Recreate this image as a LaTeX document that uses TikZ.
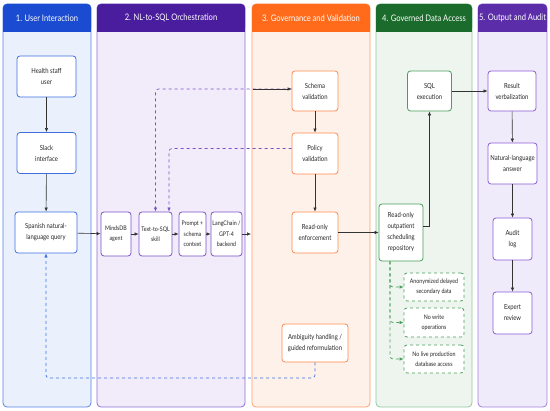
\documentclass[tikz,border=0pt]{standalone}
\usepackage{fontspec}
\setmainfont{Lato}[FakeStretch=0.84]
\usetikzlibrary{arrows.meta}

\definecolor{hdA}{HTML}{1A4BD0}
\definecolor{bdA}{HTML}{EAF1FD}
\definecolor{boA}{HTML}{5580E6}
\definecolor{ndA}{HTML}{3F6FE0}
\definecolor{hdB}{HTML}{4A1D9E}
\definecolor{bdB}{HTML}{F2ECFA}
\definecolor{boB}{HTML}{8C6BD6}
\definecolor{ndB}{HTML}{7A52C7}
\definecolor{hdC}{HTML}{FF6B1A}
\definecolor{bdC}{HTML}{FDF1EA}
\definecolor{boC}{HTML}{FF9E6B}
\definecolor{ndC}{HTML}{FF8A4F}
\definecolor{hdD}{HTML}{1B6B2C}
\definecolor{bdD}{HTML}{EEF5EF}
\definecolor{boD}{HTML}{8EC79B}
\definecolor{ndD}{HTML}{4A9E5C}
\definecolor{hdE}{HTML}{5B2DA8}
\definecolor{bdE}{HTML}{F0EBFA}
\definecolor{boE}{HTML}{9F80E0}
\definecolor{ndE}{HTML}{8A5CD6}

\begin{document}
\begin{tikzpicture}[x=1pt,y=-1pt,
  box/.style={draw, fill=white, rounded corners=3pt, line width=0.8pt, align=center,
    inner sep=1pt, text=black!85, font=\fontsize{7}{11}\selectfont},
  smallbox/.style={box, font=\fontsize{6.3}{10.3}\selectfont},
  rulebox/.style={box, dashed, draw=ndD, font=\fontsize{6.3}{9.8}\selectfont, minimum width=60pt},
  lanetitle/.style={text=white, font=\fontsize{9}{11}\selectfont},
  flow/.style={-{Latex[length=4pt,width=3.5pt]}, line width=0.6pt, draw=black!80},
  loopback/.style={-{Latex[length=4pt,width=3.5pt]}, dashed, line width=0.7pt, rounded corners=3pt},
]
  \useasboundingbox (0,0) rectangle (550,411);

  % Carriles
  \foreach \xa/\xb/\hd/\bd/\bo/\ti [count=\k] in
    {3/91/hdA/bdA/boA/{1. User Interaction},
     97/245/hdB/bdB/boB/{2. NL-to-SQL Orchestration},
     252/370/hdC/bdC/boC/{3. Governance and Validation},
     376/472/hdD/bdD/boD/{4. Governed Data Access},
     478/547/hdE/bdE/boE/{5. Output and Audit}} {
    \draw[\bo, fill=\bd, rounded corners=4pt, line width=0.8pt] (\xa,4) rectangle (\xb,407);
    \fill[\hd, rounded corners=4pt] (\xa,4) rectangle (\xb,32);
    \fill[\hd] (\xa,20) rectangle (\xb,32);
    \node[lanetitle] (lane\k) at ({(\xa+\xb)/2},18) {\ti};
  }

  % 1. Usuario
  \node[box, draw=ndA, minimum width=59pt, minimum height=41pt] (staff) at (46.5,76.5) {Health staff\\user};
  \node[box, draw=ndA, minimum width=59pt, minimum height=41pt] (slack) at (46.5,153) {Slack\\interface};
  \node[box, draw=ndA, minimum width=62pt, minimum height=41pt] (query) at (46,232.5) {Spanish natural-\\language query};

  % 2. Orquestacion
  \node[smallbox, draw=ndB, minimum width=30pt, minimum height=44pt] (minds) at (116,234) {MindsDB\\agent};
  \node[smallbox, draw=ndB, minimum width=33pt, minimum height=44pt] (skill) at (155.5,234) {Text-to-SQL\\skill};
  \node[smallbox, draw=ndB, minimum width=27pt, minimum height=44pt] (prompt) at (192.5,234) {Prompt +\\schema\\context};
  \node[smallbox, draw=ndB, minimum width=31pt, minimum height=44pt] (llm) at (226.5,234) {LangChain /\\GPT-4\\backend};

  % 3. Gobernanza
  \node[box, draw=ndC, minimum width=46pt, minimum height=40pt] (schema) at (315,91) {Schema\\validation};
  \node[box, draw=ndC, minimum width=46pt, minimum height=41pt] (policy) at (315,153.5) {Policy\\validation};
  \node[box, draw=ndC, minimum width=46pt, minimum height=41pt] (rdonly) at (315,232.5) {Read-only\\enforcement};
  \node[box, draw=ndC, minimum width=66pt, minimum height=38pt] (ambig) at (315,343) {Ambiguity handling /\\guided reformulation};

  % 4. Acceso a datos
  \node[box, draw=ndD, minimum width=44pt, minimum height=40pt] (sqlx) at (429.5,91) {SQL\\execution};
  \node[box, draw=ndD, minimum width=44pt, minimum height=57pt] (repo) at (401,232.5) {Read-only\\outpatient\\scheduling\\repository};
  \node[rulebox, minimum height=28pt] (anon) at (434,287) {Anonymized delayed\\secondary data};
  \node[rulebox, minimum height=29pt] (nowrite) at (434,322.5) {No write\\operations};
  \node[rulebox, minimum height=28pt] (nolive) at (434,359) {No live production\\database access};

  % 5. Salida
  \node[box, draw=ndE, minimum width=48pt, minimum height=40pt] (verb) at (512,91) {Result\\verbalization};
  \node[box, draw=ndE, minimum width=49pt, minimum height=41pt] (answer) at (512.5,163.5) {Natural-language\\answer};
  \node[box, draw=ndE, minimum width=39pt, minimum height=42pt] (audit) at (512.5,239) {Audit\\log};
  \node[box, draw=ndE, minimum width=39pt, minimum height=42pt] (expert) at (512.5,313) {Expert\\review};

  % puntos de paso
  \coordinate (gin) at (251,0);
  \coordinate (gout) at (253,0);
  \coordinate (back) at (46,378);

  % flujo principal
  \draw[flow] (staff) -- (slack);
  \draw[flow] (slack) -- (query);
  \draw[flow] (query) -- (minds);
  \draw[flow] (minds) -- (skill);
  \draw[flow] (skill) -- (prompt);
  \draw[flow] (prompt) -- (llm);
  \draw[flow] (llm.east) -- (llm.east -| gin);

  % retornos a Text-to-SQL
  \draw[loopback, draw=ndB] ([yshift=2pt]schema.west) -| (skill.north);
  \draw[loopback, draw=ndB] ([yshift=5pt]policy.west) -| ([xshift=13.5pt]skill.north);
  \draw[flow] ([yshift=2pt]schema.west -| gout) -- ([yshift=2pt]schema.west);

  \draw[flow] (schema) -- (policy);
  \draw[flow] (policy) -- (rdonly);
  \draw[flow] (rdonly) -- (repo);
  \draw[flow] ([yshift=6.5pt]repo.east) -| (sqlx.south);
  \draw[flow] (sqlx) -- (verb);
  \draw[flow] (verb) -- (answer);
  \draw[flow] (answer) -- (audit);
  \draw[flow] (audit) -- (expert);

  % restricciones
  \draw[loopback, draw=ndD] ([xshift=-11pt]repo.south) |- (anon.west);
  \draw[loopback, draw=ndD] ([xshift=-11pt]repo.south) |- (nowrite.west);
  \draw[loopback, draw=ndD] ([xshift=-11pt]repo.south) |- (nolive.west);

  % reformulacion
  \draw[loopback, draw=ndA] (ambig.south) -- (ambig.south |- back) -- (back) -- (query.south);
\end{tikzpicture}
\end{document}
